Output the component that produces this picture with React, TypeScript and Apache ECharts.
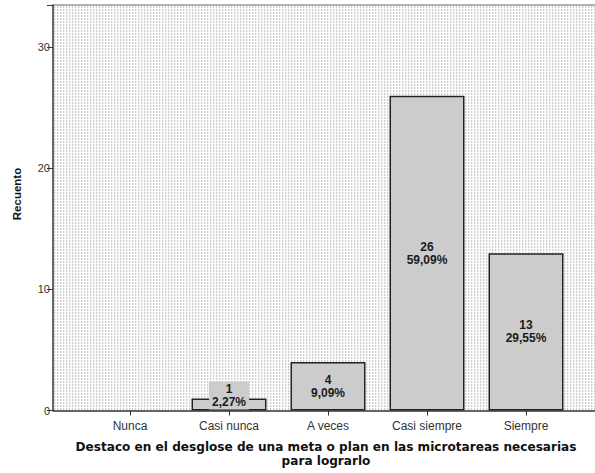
import React, { useEffect, useRef } from "react";
import * as echarts from "echarts";

const categories = ["Nunca", "Casi nunca", "A veces", "Casi siempre", "Siempre"];
const counts = [0, 1, 4, 26, 13];
const percents = ["0,00%", "2,27%", "9,09%", "59,09%", "29,55%"];
const yTicks = [0, 10, 20, 30];
const xTitle = "Destaco en el desglose de una meta o plan en las microtareas necesarias\npara lograrlo";
const yTitle = "Recuento";

function makePattern(): string | null {
  try {
    const c = document.createElement("canvas");
    c.width = 3;
    c.height = 3;
    const ctx = c.getContext("2d");
    if (!ctx) return null;
    ctx.fillStyle = "#ffffff";
    ctx.fillRect(0, 0, 3, 3);
    ctx.fillStyle = "#cdcdcd";
    ctx.fillRect(0, 0, 1, 2);
    ctx.fillStyle = "#efefef";
    ctx.fillRect(1, 0, 1, 2);
    return c.toDataURL();
  } catch (e) {
    return null;
  }
}

export default function App() {
  const ref = useRef<HTMLDivElement>(null);
  useEffect(() => {
    if (!ref.current) return;
    const chart = echarts.init(ref.current, undefined, { renderer: "svg" });
    const pat = makePattern();
    const bg: any = pat ? { image: pat, repeat: "repeat" } : "#e6e6e6";
    const font = "'Liberation Sans', Arial, sans-serif";
    const yMax = 33.5;
    chart.setOption({
      animation: false,
      backgroundColor: "#ffffff",
      grid: [
        { left: 53, top: 5, right: 0, bottom: 62.5, show: true, backgroundColor: bg, borderWidth: 0 },
        { left: 80.5, top: 5, width: 495, bottom: 62.5 },
      ],
      xAxis: [
        {
          gridIndex: 0,
          type: "value",
          min: 0,
          max: 1,
          axisLine: { show: true, lineStyle: { color: "#333333", width: 1.5 } },
          axisTick: { show: false },
          axisLabel: { show: false },
          splitLine: { show: false },
        },
        {
          gridIndex: 1,
          type: "category",
          data: categories,
          axisLine: { show: false },
          axisTick: { show: true, alignWithLabel: true, length: 5, lineStyle: { color: "#333333" } },
          axisLabel: { color: "#333333", fontSize: 12, fontFamily: font, margin: 9 },
        },
      ],
      yAxis: [
        {
          gridIndex: 0,
          type: "value",
          min: 0,
          max: yMax,
          interval: 10,
          axisLine: { show: true, lineStyle: { color: "#333333", width: 1.5 } },
          axisTick: { show: true, length: 6, lineStyle: { color: "#333333" } },
          axisLabel: {
            color: "#333333",
            fontSize: 11,
            fontFamily: font,
            margin: 3,
            formatter: (v: number) => (yTicks.includes(v) ? String(v) : ""),
          },
          splitLine: { show: false },
        },
        {
          gridIndex: 1,
          type: "value",
          min: 0,
          max: yMax,
          show: false,
        },
      ],
      series: [
        {
          type: "bar",
          xAxisIndex: 1,
          yAxisIndex: 1,
          barWidth: 75,
          data: counts.map((v) =>
            v === 0
              ? null
              : v < 2
              ? { value: v, label: { position: "insideBottom", distance: 1 } }
              : v
          ),
          itemStyle: { color: "#cccccc", borderColor: "#222222", borderWidth: 1.5 },
          label: {
            show: true,
            position: "inside",
            color: "#1a1a1a",
            fontSize: 12,
            fontWeight: "bold",
            fontFamily: font,
            lineHeight: 13,
            backgroundColor: "#cccccc",
            padding: [1, 3],
            formatter: (p: any) =>
              !p.value ? "" : `${p.value}\n${percents[p.dataIndex]}`,
          },
        },
      ],
      graphic: [
        {
          type: "line",
          shape: { x1: 53, y1: 5, x2: 595, y2: 5 },
          style: { stroke: "#999999", lineWidth: 1.5 },
        },
        {
          type: "text",
          x: 326,
          y: 454,
          style: {
            text: xTitle,
            fill: "#111111",
            font: `bold 12.1px 'DejaVu Sans', sans-serif`,
            textAlign: "center",
            textVerticalAlign: "middle",
            lineHeight: 14,
          },
        },
        {
          type: "text",
          x: 17,
          y: 194,
          rotation: Math.PI / 2,
          style: {
            text: yTitle,
            fill: "#111111",
            font: `bold 11.5px ${font}`,
            textAlign: "center",
            textVerticalAlign: "middle",
          },
        },
      ],
    });
    return () => chart.dispose();
  }, []);
  return (
    <div
      ref={ref}
      style={{ position: "fixed", left: 0, top: 0, width: 595, height: 473 }}
    />
  );
}
